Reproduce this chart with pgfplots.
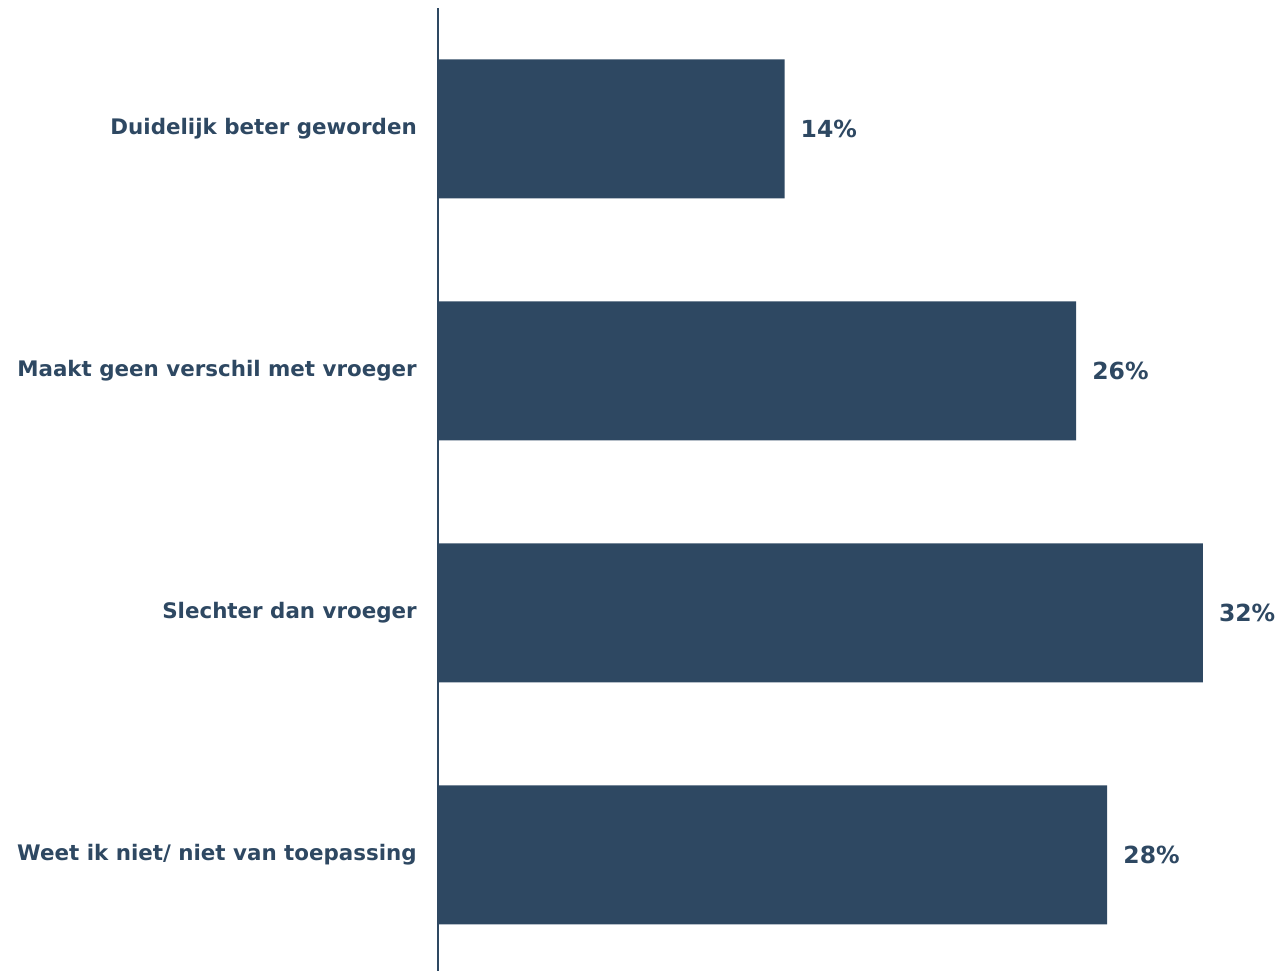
\documentclass[border=0pt]{standalone}
\usepackage{pgfplots}
\pgfplotsset{compat=1.18}
\usepackage{fontspec}
\setmainfont{DejaVu Sans}
\definecolor{barblue}{RGB}{46,72,98}
\begin{document}
\begin{tikzpicture}
\begin{axis}[
  at={(0,0)}, anchor=south west,
  scale only axis,
  width=836.5pt, height=963pt,
  xbar, bar width=139pt,
  xmin=0, xmax=35,
  ymin=-0.48, ymax=3.5,
  hide x axis,
  axis y line*=left,
  axis line style={barblue, line width=1.2pt, -},
  ytick={0,1,2,3},
  yticklabels={Weet ik niet/ niet van toepassing,Slechter dan vroeger,Maakt geen verschil met vroeger,Duidelijk beter geworden},
  major tick length=0pt,
  yticklabel style={font=\fontsize{21.4}{25}\selectfont\bfseries, text=barblue, inner sep=0pt, xshift=-21pt},
  point meta=explicit symbolic,
  nodes near coords,
  every node near coord/.append style={font=\fontsize{23.5}{27}\selectfont\bfseries, text=barblue, inner sep=0pt, xshift=16pt, anchor=west},
]
\addplot[fill=barblue, draw=none] coordinates {
  (28.0,0) [28\%]
  (32.0,1) [32\%]
  (26.7,2) [26\%]
  (14.5,3) [14\%]
};
\end{axis}
\pgfresetboundingbox
\path (-438pt,0pt) rectangle (839pt,971pt);
\end{tikzpicture}
\end{document}
